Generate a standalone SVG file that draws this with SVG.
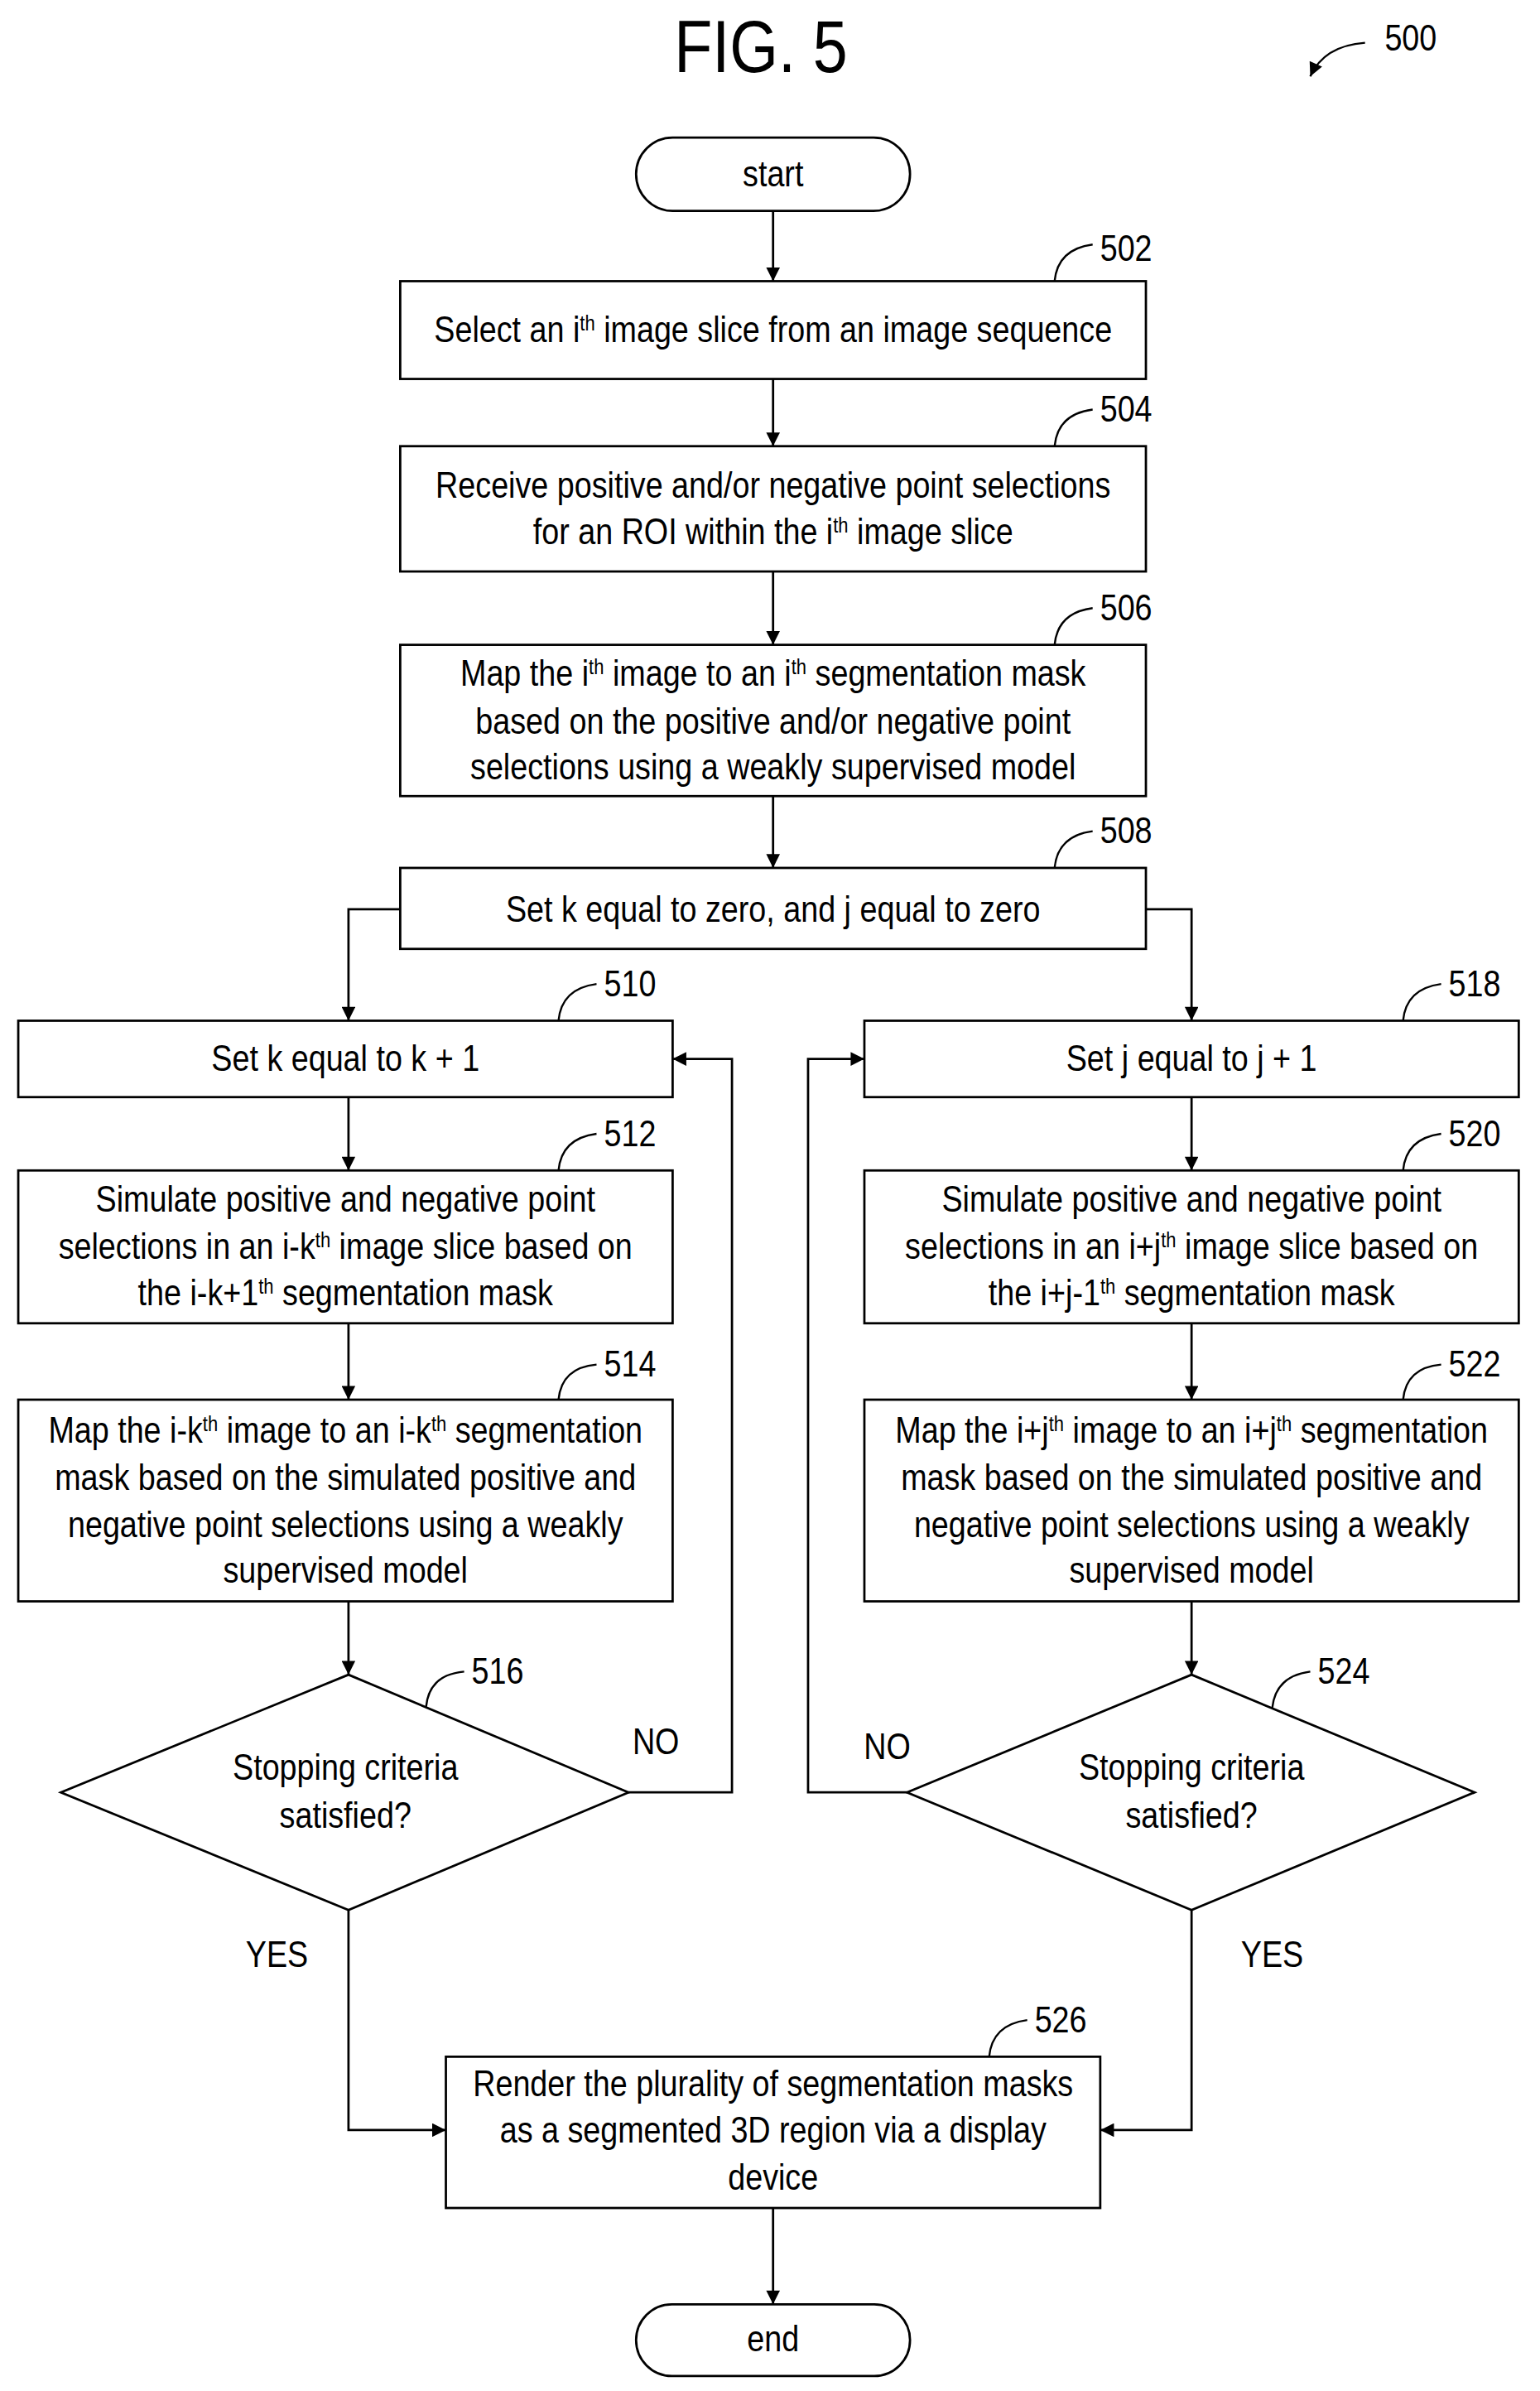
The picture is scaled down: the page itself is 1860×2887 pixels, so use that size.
<svg xmlns="http://www.w3.org/2000/svg" width="1860" height="2887" viewBox="0 0 1860 2887">
<style>
rect,path.s,polygon{fill:#fff;stroke:#000;stroke-width:1.5}
.c path{fill:none;stroke:#000;stroke-width:1.5}
.h{fill:none;stroke:#000;stroke-width:1.3}
text{font-family:"Liberation Sans",Arial,sans-serif;font-size:24px;text-anchor:middle;fill:#000;transform-box:fill-box;transform-origin:center;transform:scaleX(0.855)}
text.n{text-anchor:start}
tspan.sup{font-size:14px;baseline-shift:super}
</style>
<defs><marker id="a" viewBox="0 0 10 10" refX="10" refY="5" markerWidth="10" markerHeight="9" orient="auto" markerUnits="userSpaceOnUse"><path d="M0,0 L10,5 L0,10 z" fill="#000"/></marker></defs>
<rect width="1860" height="2887" fill="#fff" style="stroke:none"/>
<g transform="scale(1.838,1.845)">
<text x="500" y="47" style="font-size:48px">FIG. 5</text>
<text class="n" x="907" y="33">500</text>
<path class="h" d="M897,28 Q870,30 861,50" marker-end="url(#a)"/>
<g id="start"><rect x="418" y="90" width="180" height="48" rx="24"/><text x="508" y="122">start</text></g>
<g id="n502"><rect x="263" y="184" width="490" height="64"/><text x="508" y="224">Select an i<tspan class="sup">th</tspan> image slice from an image sequence</text><path class="h" d="M693,184 Q695,163 718,160"/><text class="n" x="720" y="171">502</text></g>
<g id="n504"><rect x="263" y="292" width="490" height="82"/><text x="508" y="326">Receive positive and/or negative point selections</text><text x="508" y="356">for an ROI within the i<tspan class="sup">th</tspan> image slice</text><path class="h" d="M693,292 Q695,271 718,268"/><text class="n" x="720" y="276">504</text></g>
<g id="n506"><rect x="263" y="422" width="490" height="99"/><text x="508" y="449">Map the i<tspan class="sup">th</tspan> image to an i<tspan class="sup">th</tspan> segmentation mask</text><text x="508" y="480">based on the positive and/or negative point</text><text x="508" y="510">selections using a weakly supervised model</text><path class="h" d="M693,422 Q695,401 718,398"/><text class="n" x="720" y="406">506</text></g>
<g id="n508"><rect x="263" y="568" width="490" height="53"/><text x="508" y="603">Set k equal to zero, and j equal to zero</text><path class="h" d="M693,568 Q695,547 718,544"/><text class="n" x="720" y="552">508</text></g>
<g id="n510"><rect x="12" y="668" width="430" height="50"/><text x="227" y="701">Set k equal to k + 1</text><path class="h" d="M367,668 Q369,647 392,644"/><text class="n" x="394" y="652">510</text></g>
<g id="n512"><rect x="12" y="766" width="430" height="100"/><text x="227" y="793">Simulate positive and negative point</text><text x="227" y="824">selections in an i-k<tspan class="sup">th</tspan> image slice based on</text><text x="227" y="854">the i-k+1<tspan class="sup">th</tspan> segmentation mask</text><path class="h" d="M367,766 Q369,745 392,742"/><text class="n" x="394" y="750">512</text></g>
<g id="n514"><rect x="12" y="916" width="430" height="132"/><text x="227" y="944">Map the i-k<tspan class="sup">th</tspan> image to an i-k<tspan class="sup">th</tspan> segmentation</text><text x="227" y="975">mask based on the simulated positive and</text><text x="227" y="1006">negative point selections using a weakly</text><text x="227" y="1036">supervised model</text><path class="h" d="M367,916 Q369,895 392,893"/><text class="n" x="394" y="901">514</text></g>
<g id="n516"><polygon points="229,1096 413,1173 229,1250 40,1173"/><text x="227" y="1165">Stopping criteria</text><text x="227" y="1196">satisfied?</text><path class="h" d="M280,1117 Q282,1096 305,1094"/><text class="n" x="307" y="1102">516</text></g>
<g id="n518"><rect x="568" y="668" width="430" height="50"/><text x="783" y="701">Set j equal to j + 1</text><path class="h" d="M922,668 Q924,647 947,644"/><text class="n" x="949" y="652">518</text></g>
<g id="n520"><rect x="568" y="766" width="430" height="100"/><text x="783" y="793">Simulate positive and negative point</text><text x="783" y="824">selections in an i+j<tspan class="sup">th</tspan> image slice based on</text><text x="783" y="854">the i+j-1<tspan class="sup">th</tspan> segmentation mask</text><path class="h" d="M922,766 Q924,745 947,742"/><text class="n" x="949" y="750">520</text></g>
<g id="n522"><rect x="568" y="916" width="430" height="132"/><text x="783" y="944">Map the i+j<tspan class="sup">th</tspan> image to an i+j<tspan class="sup">th</tspan> segmentation</text><text x="783" y="975">mask based on the simulated positive and</text><text x="783" y="1006">negative point selections using a weakly</text><text x="783" y="1036">supervised model</text><path class="h" d="M922,916 Q924,895 947,893"/><text class="n" x="949" y="901">522</text></g>
<g id="n524"><polygon points="783,1096 969,1173 783,1250 596,1173"/><text x="783" y="1165">Stopping criteria</text><text x="783" y="1196">satisfied?</text><path class="h" d="M836,1118 Q838,1097 861,1094"/><text class="n" x="863" y="1102">524</text></g>
<g id="n526"><rect x="293" y="1346" width="430" height="99"/><text x="508" y="1372">Render the plurality of segmentation masks</text><text x="508" y="1402">as a segmented 3D region via a display</text><text x="508" y="1433">device</text><path class="h" d="M650,1346 Q652,1325 675,1322"/><text class="n" x="677" y="1330">526</text></g>
<g id="end"><rect x="418" y="1508" width="180" height="47" rx="23.5"/><text x="508" y="1539">end</text></g>
<g class="c">
<path d="M508,138 V184" marker-end="url(#a)"/>
<path d="M508,248 V292" marker-end="url(#a)"/>
<path d="M508,374 V422" marker-end="url(#a)"/>
<path d="M508,521 V568" marker-end="url(#a)"/>
<path d="M263,595 H229 V668" marker-end="url(#a)"/>
<path d="M753,595 H783 V668" marker-end="url(#a)"/>
<path d="M229,718 V766" marker-end="url(#a)"/>
<path d="M229,866 V916" marker-end="url(#a)"/>
<path d="M229,1048 V1096" marker-end="url(#a)"/>
<path d="M783,718 V766" marker-end="url(#a)"/>
<path d="M783,866 V916" marker-end="url(#a)"/>
<path d="M783,1048 V1096" marker-end="url(#a)"/>
<path d="M413,1173 H481 V693 H442" marker-end="url(#a)"/>
<path d="M596,1173 H531 V693 H568" marker-end="url(#a)"/>
<path d="M229,1250 V1394 H293" marker-end="url(#a)"/>
<path d="M783,1250 V1394 H723" marker-end="url(#a)"/>
<path d="M508,1445 V1508" marker-end="url(#a)"/>
</g>
<text x="431" y="1148">NO</text>
<text x="583" y="1151">NO</text>
<text x="182" y="1287">YES</text>
<text x="836" y="1287">YES</text>
</g>
</svg>
